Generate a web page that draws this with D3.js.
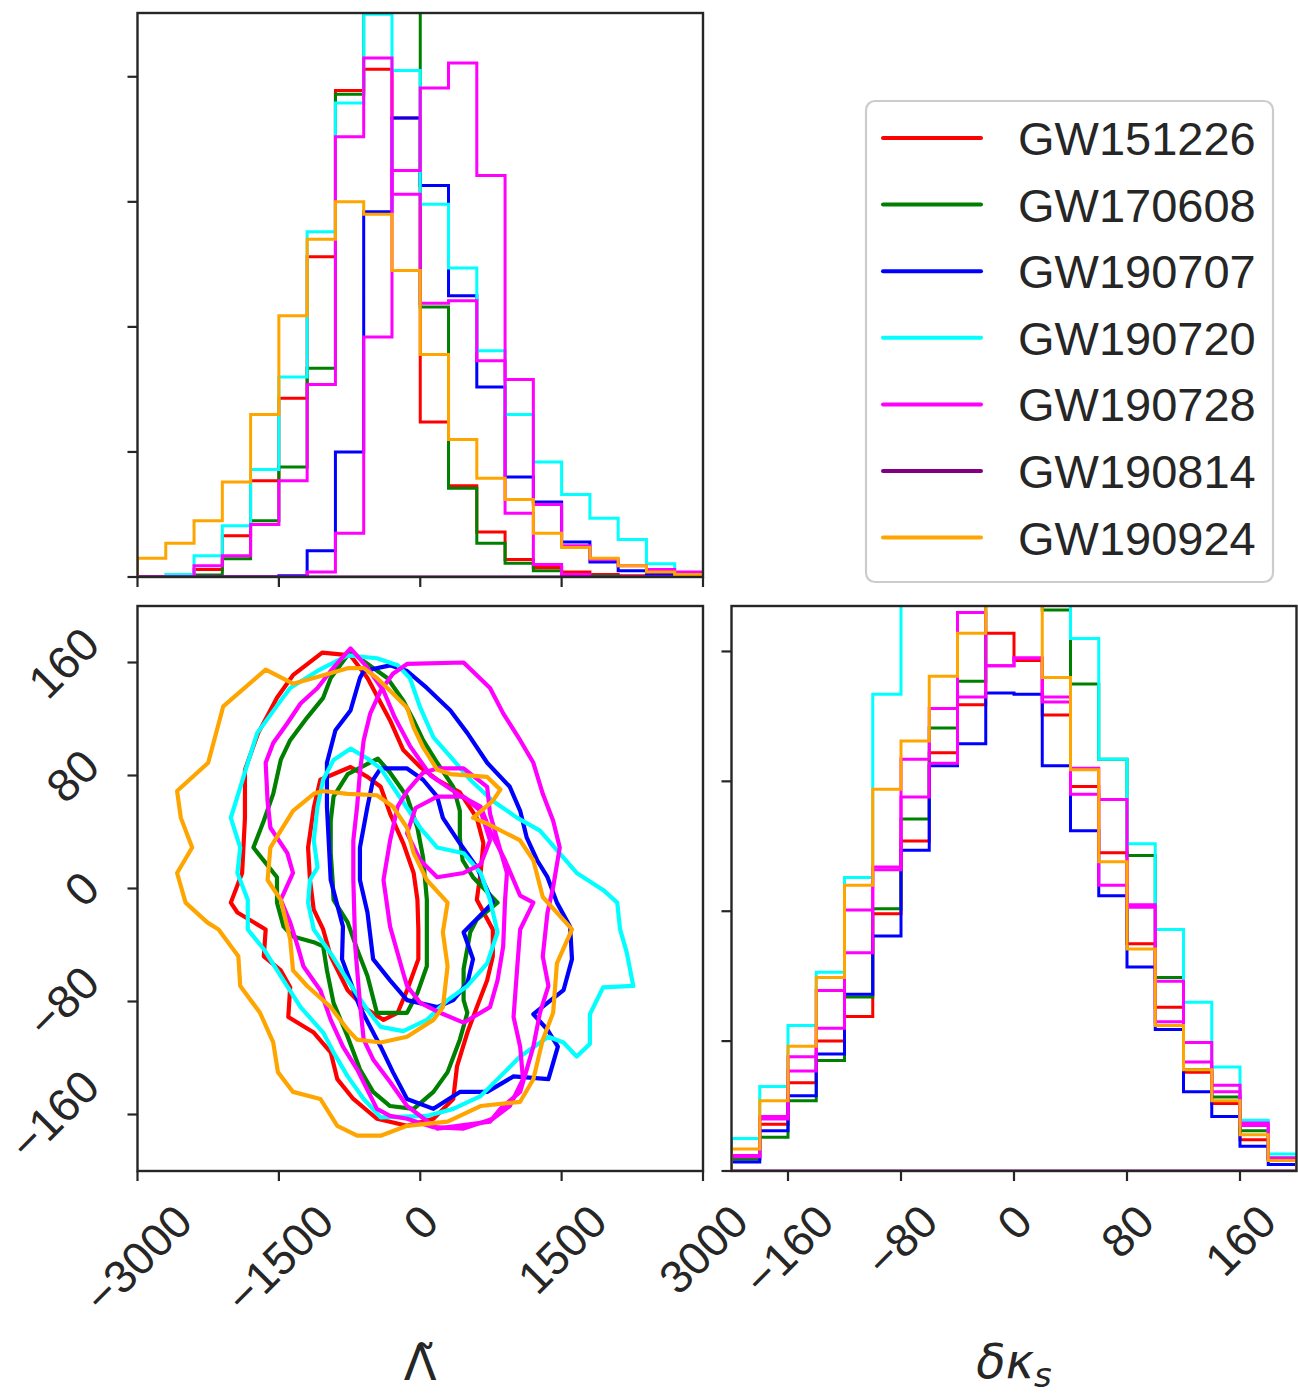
<!DOCTYPE html>
<html><head><meta charset="utf-8">
<script src="https://cdn.jsdelivr.net/npm/d3@7"></script>
<style>body{margin:0;background:#fff}svg{display:block}</style>
</head><body>
<svg id="chart" width="1298" height="1394"></svg>
<script>
// ---------------- DATA ----------------
const eventNames = ["GW151226","GW170608","GW190707","GW190720","GW190728","GW190814","GW190924"];
const eventColors = ["#ff0000","#008000","#0000ff","#00ffff","#ff00ff","#800080","#ffa500"];

const lambdaBinEdges = [-3000,-2700,-2400,-2100,-1800,-1500,-1200,-900,-600,-300,0,300,600,900,1200,1500,1800,2100,2400,2700,3000];
const kappaBinEdges = [-200,-180,-160,-140,-120,-100,-80,-60,-40,-20,0,20,40,60,80,100,120,140,160,180,200];

const lambdaTicks = [-3000,-1500,0,1500,3000];
const lambdaTickLabels = ["\u22123000","\u22121500","0","1500","3000"];
const kappaTicks = [-160,-80,0,80,160];
const kappaTickLabels = ["\u2212160","\u221280","0","80","160"];
const densityTicks = [0,1,2,3,4];

// marginal histograms of Lambda-tilde (density, tick units)
const lamGW151226 = [0,0,0.06,0.33,0.77,1.43,2.56,3.89,4.06,3.67,1.24,0.73,0.36,0.14,0.075,0.04,0.02,0.01,0,0];
const lamGW170608 = [0,0,0.015,0.145,0.45,0.88,1.67,3.86,4.7,5.2,2.16,0.71,0.27,0.11,0.05,0.015,0.01,0.005,0.005,0.005];
const lamGW190707 = [0,0,0,0,0,0.01,0.21,1.00,2.92,3.67,3.13,2.25,1.52,0.80,0.60,0.28,0.12,0.05,0.02,0];
const lamGW190720 = [0,0.02,0.17,0.41,0.86,1.60,2.76,3.79,4.50,4.05,2.98,2.47,1.81,1.30,0.92,0.66,0.47,0.30,0.105,0.02];
const lamGW190728 = [0,0,0,0,0,0,0.04,0.35,1.92,3.25,3.91,4.11,3.21,1.58,0.58,0.25,0.14,0.09,0.06,0.04];
const lamGW190814 = [0,0,0,0,0,0,0,0,0,0,0,0,0,0,0,0,0,0,0,0];
const lamGW190924 = [0.15,0.27,0.45,0.76,1.30,2.09,2.70,3.00,2.90,2.45,1.78,1.10,0.79,0.62,0.35,0.235,0.15,0.09,0.04,0.02];
const lamExtraMagenta = [0,0,0.09,0.17,0.42,0.77,1.54,3.52,4.15,3.06,2.19,2.21,1.73,0.51,0.10,0.02,0,0,0,0];

// marginal histograms of delta kappa_s
const kapGW151226 = [0.10,0.36,0.68,1.00,1.19,1.98,2.54,3.22,3.59,4.14,3.93,3.51,2.96,2.45,1.75,1.26,0.76,0.52,0.24,0.09];
const kapGW170608 = [0.09,0.26,0.54,0.85,1.34,2.02,2.71,3.41,3.77,4.6,4.6,4.32,3.75,3.17,2.43,1.49,0.78,0.57,0.31,0.10];
const kapGW190707 = [0.07,0.31,0.58,0.90,1.36,1.81,2.47,3.12,3.29,3.68,3.67,3.12,2.62,2.12,1.57,1.09,0.61,0.42,0.19,0.05];
const kapGW190720 = [0.25,0.65,1.12,1.53,2.26,3.67,4.8,5.0,5.1,5.0,4.9,4.6,4.10,3.17,2.52,1.86,1.30,0.80,0.39,0.13];
const kapGW190728 = [0.12,0.42,0.88,1.39,2.01,2.34,3.17,3.56,4.30,3.89,3.95,3.65,3.10,2.86,2.05,1.46,0.99,0.66,0.37,0.10];
const kapGW190814 = [0,0,0,0,0,0,0,0,0,0,0,0,0,0,0,0,0,0,0,0];
const kapGW190924 = [0.17,0.54,0.96,1.49,2.20,2.94,3.31,3.81,4.14,4.5,4.5,3.80,3.09,2.38,1.71,1.12,0.78,0.54,0.28,0.08];
const kapExtraMagenta = [0.11,0.40,0.77,1.10,1.68,2.32,2.88,3.14,3.65,3.89,3.95,3.61,2.90,2.20,2.03,1.15,0.84,0.61,0.35,0.09];

// 2D credible contours [Lambda, dkappa]
const ctrGW151226Outer = [[-1040,167],[-740,165],[-560,149],[-320,119],[-180,98],[0,86],[180,77],[420,68],[600,50],[670,32],[640,11],[600,-8],[770,-29],[770,-48],[710,-65],[600,-84],[500,-102],[390,-126],[350,-149],[140,-163],[-140,-168],[-460,-163],[-710,-149],[-880,-135],[-950,-116],[-1130,-102],[-1400,-91],[-1380,-70],[-1480,-58],[-1660,-48],[-1640,-29],[-1940,-17],[-2010,-10],[-1890,11],[-1860,50],[-1860,84],[-1720,110],[-1520,135],[-1350,151]];
const ctrGW151226Inner = [[-740,86],[-560,79],[-420,72],[-320,53],[-180,32],[-70,11],[-30,-8],[-20,-29],[-20,-50],[-140,-72],[-240,-88],[-390,-93],[-600,-84],[-770,-72],[-950,-48],[-1030,-29],[-1130,-15],[-1170,6],[-1190,29],[-1130,57],[-1060,77]];
const ctrGW170608Outer = [[-740,168],[-600,161],[-350,149],[-180,133],[-70,119],[30,105],[180,89],[350,72],[420,55],[420,36],[450,20],[560,8],[820,-10],[600,-22],[530,-31],[460,-57],[460,-79],[500,-88],[420,-107],[290,-130],[140,-144],[-70,-156],[-320,-154],[-500,-144],[-640,-128],[-770,-105],[-920,-81],[-990,-58],[-1030,-41],[-1130,-38],[-1350,-34],[-1450,-27],[-1520,-10],[-1520,8],[-1770,29],[-1660,48],[-1560,67],[-1480,91],[-1380,105],[-1200,121],[-1030,135],[-950,149]];
const ctrGW170608Inner = [[-450,92],[-320,82],[-140,65],[-30,43],[30,22],[70,-8],[70,-31],[70,-55],[-30,-74],[-140,-88],[-460,-88],[-560,-62],[-670,-43],[-770,-24],[-920,-8],[-930,6],[-950,25],[-950,48],[-920,65],[-770,81]];
const ctrGW190707Outer = [[-600,154],[-320,158],[-140,154],[70,142],[320,126],[500,110],[710,89],[950,72],[1060,55],[1130,36],[1240,20],[1350,8],[1450,-10],[1590,-27],[1610,-50],[1520,-72],[1200,-89],[1350,-100],[1460,-112],[1360,-135],[990,-133],[710,-144],[420,-144],[140,-156],[-140,-149],[-290,-130],[-420,-112],[-640,-84],[-830,-50],[-820,-27],[-950,6],[-990,58],[-990,89],[-900,112],[-740,126],[-640,149]];
const ctrGW190707Inner = [[-420,85],[-140,85],[30,77],[180,65],[240,50],[420,32],[600,15],[710,-1],[770,-10],[460,-31],[560,-50],[500,-67],[350,-79],[180,-84],[-140,-79],[-320,-65],[-500,-50],[-560,-17],[-640,6],[-640,29],[-560,58],[-500,77]];
const ctrGW190720Outer = [[-770,165],[-460,163],[-240,158],[-110,149],[0,128],[140,107],[350,91],[530,77],[770,62],[1030,50],[1270,41],[1660,11],[1940,-1],[2090,-10],[2120,-29],[2190,-45],[2260,-69],[1940,-70],[1800,-89],[1800,-110],[1660,-119],[1520,-109],[1360,-105],[1060,-119],[850,-133],[640,-147],[350,-156],[70,-161],[-420,-162],[-600,-149],[-770,-133],[-920,-116],[-1030,-102],[-1270,-84],[-1480,-62],[-1660,-43],[-1830,-29],[-1830,-8],[-1940,11],[-1910,29],[-2010,50],[-1940,65],[-1830,89],[-1730,110],[-1480,133],[-1380,142],[-1090,154]];
const ctrGW190720Inner = [[-740,99],[-560,92],[-420,85],[-290,72],[-140,57],[0,43],[180,29],[460,25],[640,11],[740,-8],[820,-31],[710,-53],[500,-69],[290,-79],[70,-93],[-180,-101],[-420,-98],[-560,-86],[-770,-65],[-950,-46],[-1130,-29],[-1190,-10],[-1170,6],[-1090,15],[-1130,34],[-1090,58],[-1030,77],[-920,91]];
const ctrGW190728Outer = [[-140,159],[460,160],[740,142],[880,124],[1060,105],[1200,89],[1300,67],[1410,48],[1480,29],[1410,1],[1350,-17],[1300,-48],[1360,-69],[1270,-88],[1200,-112],[1130,-128],[1060,-144],[850,-156],[740,-165],[180,-170],[-140,-154],[-320,-137],[-500,-121],[-600,-107],[-640,-81],[-690,-41],[-710,6],[-710,34],[-670,58],[-640,82],[-600,105],[-530,124],[-420,140],[-290,152]];
const ctrGW190728Inner = [[180,85],[460,85],[710,72],[740,53],[820,34],[920,11],[900,-8],[880,-41],[820,-65],[740,-84],[460,-95],[210,-88],[0,-81],[-140,-69],[-180,-60],[-320,-27],[-390,6],[-320,34],[-240,58],[-140,69],[30,82]];
const ctrExtraMagentaOuter = [[-740,170],[-580,158],[-390,140],[-270,121],[-110,101],[110,80],[420,66],[640,58],[740,41],[900,20],[1060,-5],[1200,-10],[1060,-29],[1030,-55],[990,-91],[1060,-112],[1090,-135],[950,-154],[770,-163],[460,-170],[140,-169],[-140,-163],[-320,-161],[-460,-156],[-670,-128],[-820,-112],[-950,-93],[-1060,-72],[-1240,-55],[-1300,-41],[-1380,-24],[-1480,-8],[-1350,11],[-1410,25],[-1590,43],[-1620,62],[-1640,89],[-1560,103],[-1410,117],[-1270,131],[-1090,142],[-950,154]];
const ctrExtraMagentaInner = [[180,65],[460,65],[640,55],[740,34],[640,17],[460,11],[180,8],[0,20],[-140,39],[-50,57]];
const ctrGW190924Outer = [[-1640,155],[-1350,145],[-1130,149],[-770,156],[-600,156],[-460,149],[-290,138],[-140,128],[-70,114],[30,100],[180,84],[320,81],[710,79],[850,70],[770,62],[560,50],[710,46],[1060,34],[1200,20],[1300,-6],[1610,-29],[1450,-53],[1410,-88],[1300,-107],[1200,-135],[1060,-151],[640,-154],[290,-165],[-140,-168],[-420,-175],[-670,-175],[-880,-168],[-1060,-149],[-1350,-144],[-1510,-130],[-1560,-109],[-1700,-88],[-1910,-69],[-1930,-48],[-2140,-29],[-2260,-24],[-2490,-10],[-2580,11],[-2420,29],[-2540,50],[-2580,69],[-2250,89],[-2090,129]];
const ctrGW190924Inner = [[-1030,69],[-770,67],[-460,66],[-290,58],[-140,43],[-70,25],[70,6],[290,-10],[240,-31],[290,-55],[240,-84],[140,-93],[-140,-105],[-420,-109],[-670,-107],[-770,-100],[-950,-84],[-1200,-69],[-1350,-58],[-1380,-36],[-1480,-8],[-1620,6],[-1590,29],[-1480,41],[-1350,55],[-1130,67]];

// ---------------- TABLE ----------------
const series = [
  {name:"GW151226", color:eventColors[0], lam:lamGW151226, kap:kapGW151226, ctr:[ctrGW151226Outer, ctrGW151226Inner]},
  {name:"GW170608", color:eventColors[1], lam:lamGW170608, kap:kapGW170608, ctr:[ctrGW170608Outer, ctrGW170608Inner]},
  {name:"GW190707", color:eventColors[2], lam:lamGW190707, kap:kapGW190707, ctr:[ctrGW190707Outer, ctrGW190707Inner]},
  {name:"GW190720", color:eventColors[3], lam:lamGW190720, kap:kapGW190720, ctr:[ctrGW190720Outer, ctrGW190720Inner]},
  {name:"GW190728", color:eventColors[4], lam:lamGW190728, kap:kapGW190728, ctr:[ctrGW190728Outer, ctrGW190728Inner]},
  {name:"extra", color:eventColors[4], lam:lamExtraMagenta, kap:kapExtraMagenta, ctr:[ctrExtraMagentaOuter, ctrExtraMagentaInner]},
  {name:"GW190814", color:eventColors[5], lam:lamGW190814, kap:kapGW190814, ctr:[]},
  {name:"GW190924", color:eventColors[6], lam:lamGW190924, kap:kapGW190924, ctr:[ctrGW190924Outer, ctrGW190924Inner]}
];

// ---------------- LAYOUT ----------------
const svg = d3.select("#chart");
const INK = "#262626";
const TICKFONT = 46;
const TICKLEN = 10;

const L = 137.5, R = 703, T1 = 13, B1 = 577, T2 = 606, B2 = 1171, L3 = 731.5, R3 = 1296.5;

const xLam = d3.scaleLinear().domain([-3000,3000]).range([L,R]);
const yTop = d3.scaleLinear().domain([0,4.51]).range([B1,T1]);
const yKap2d = d3.scaleLinear().domain([-200,200]).range([B2,T2]);
const xKap = d3.scaleLinear().domain([-200,200]).range([L3,R3]);
const yRight = d3.scaleLinear().domain([0,4.35]).range([B2,T2]);

const defs = svg.append("defs");
function clip(id, x0, y0, x1, y1){
  defs.append("clipPath").attr("id",id).append("rect")
    .attr("x",x0).attr("y",y0).attr("width",x1-x0).attr("height",y1-y0);
  return `url(#${id})`;
}

function stepLine(edges, vals, xs, ys){
  const pts = [[edges[0],0]];
  vals.forEach((v,i)=>pts.push([edges[i],v]));
  pts.push([edges[edges.length-1],vals[vals.length-1]]);
  pts.push([edges[edges.length-1],0]);
  return d3.line().x(d=>xs(d[0])).y(d=>ys(d[1])).curve(d3.curveStepAfter)(pts);
}

// ---- top histogram
const gTop = svg.append("g").attr("clip-path", clip("cTop", L, T1, R, B1));
series.forEach(s=>{
  gTop.append("path").attr("d", stepLine(lambdaBinEdges, s.lam, xLam, yTop))
    .attr("fill","none").attr("stroke",s.color).attr("stroke-width",3);
});

// ---- right histogram
const gRight = svg.append("g").attr("clip-path", clip("cRight", L3, T2, R3, B2));
series.forEach(s=>{
  gRight.append("path").attr("d", stepLine(kappaBinEdges, s.kap, xKap, yRight))
    .attr("fill","none").attr("stroke",s.color).attr("stroke-width",3);
});

// ---- 2D contours
const g2d = svg.append("g").attr("clip-path", clip("c2d", L, T2, R, B2));
const cLine = d3.line().x(d=>xLam(d[0])).y(d=>yKap2d(d[1])).curve(d3.curveLinearClosed);
series.forEach(s=>{
  s.ctr.forEach(c=>{
    g2d.append("path").attr("d", cLine(c)).attr("fill","none")
      .attr("stroke", s.color).attr("stroke-width",4.2).attr("stroke-linejoin","round");
  });
});

// ---- frames & ticks
function frame(x0,y0,x1,y1){
  svg.append("rect").attr("x",x0).attr("y",y0).attr("width",x1-x0).attr("height",y1-y0)
    .attr("fill","none").attr("stroke",INK).attr("stroke-width",2.4);
}
frame(L,T1,R,B1); frame(L,T2,R,B2); frame(L3,T2,R3,B2);

function xTicks(scale, ticks, yBase){
  ticks.forEach(t=>svg.append("line").attr("x1",scale(t)).attr("x2",scale(t))
    .attr("y1",yBase).attr("y2",yBase+TICKLEN).attr("stroke",INK).attr("stroke-width",2.2));
}
function yTicks(scale, ticks, xBase){
  ticks.forEach(t=>svg.append("line").attr("y1",scale(t)).attr("y2",scale(t))
    .attr("x1",xBase).attr("x2",xBase-TICKLEN).attr("stroke",INK).attr("stroke-width",2.2));
}
xTicks(xLam, lambdaTicks, B1);
yTicks(yTop, densityTicks, L);
xTicks(xLam, lambdaTicks, B2);
yTicks(yKap2d, kappaTicks, L);
xTicks(xKap, kappaTicks, B2);
yTicks(yRight, densityTicks, L3);

// rotated tick labels
function rotLabel(text, mode, pos, edge){
  const t = svg.append("text").text(text)
    .attr("font-family","'Liberation Sans', Arial, Helvetica, sans-serif")
    .attr("font-size",TICKFONT).attr("fill",INK)
    .attr("text-anchor","middle").attr("dy","0.36em");
  const w = t.node().getComputedTextLength();
  const h = 0.72*TICKFONT;
  const half = (w+h)*0.3536;
  let cx, cy;
  if(mode==="x"){ cx = pos; cy = edge + half; }
  else { cx = edge - half; cy = pos; }
  t.attr("transform",`translate(${cx},${cy}) rotate(-45)`);
}
lambdaTicks.forEach((t,i)=>rotLabel(lambdaTickLabels[i],"x",xLam(t),B2+30));
kappaTicks.forEach((t,i)=>rotLabel(kappaTickLabels[i],"x",xKap(t),B2+30));
kappaTicks.forEach((t,i)=>rotLabel(kappaTickLabels[i],"y",yKap2d(t),102));

// axis labels
svg.append("text").attr("x",(L+R)/2).attr("y",1380)
  .attr("text-anchor","middle").attr("font-family","'DejaVu Sans', sans-serif")
  .attr("font-size",48).attr("fill",INK).text("\u039B\u0303");
const kl = svg.append("text").attr("x",(L3+R3)/2).attr("y",1378)
  .attr("text-anchor","middle").attr("font-family","'DejaVu Sans', sans-serif")
  .attr("font-style","italic").attr("font-size",48).attr("fill",INK);
kl.append("tspan").text("\u03B4\u03BA");
kl.append("tspan").attr("font-size",34).attr("dy",9).text("s");

// legend
const lg = svg.append("g");
lg.append("rect").attr("x",866).attr("y",101).attr("width",407).attr("height",481)
  .attr("rx",9).attr("fill","#fff").attr("fill-opacity",0.8)
  .attr("stroke","#cccccc").attr("stroke-width",2.2);
eventNames.forEach((n,i)=>{
  const y = 138 + i*66.6;
  lg.append("line").attr("x1",883).attr("x2",981).attr("y1",y).attr("y2",y)
    .attr("stroke",eventColors[i]).attr("stroke-width",4).attr("stroke-linecap","round");
  lg.append("text").attr("x",1018).attr("y",y+17).text(n)
    .attr("font-family","'Liberation Sans', Arial, Helvetica, sans-serif")
    .attr("font-size",47).attr("fill",INK);
});
</script>
</body></html>
